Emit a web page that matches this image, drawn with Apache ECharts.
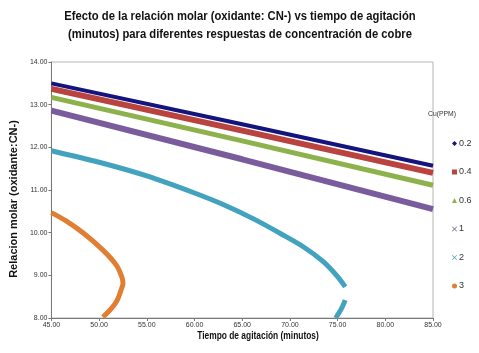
<!DOCTYPE html>
<html>
<head>
<meta charset="utf-8">
<script src="https://cdn.jsdelivr.net/npm/echarts@6/dist/echarts.min.js"></script>
<style>
  html, body { margin: 0; padding: 0; background: #fff; }
  #chart { width: 479px; height: 353px; }
</style>
</head>
<body>
<div id="chart"></div>
<script>
var sans = '"Liberation Sans", Arial, sans-serif';

// Cu (PPM) levels
var seriesNames = ['0.2', '0.4', '0.6', '1', '2', '3'];
var seriesColors = ['#14147e', '#b8433f', '#8db24c', '#7a5c9c', '#43a3bf', '#e07e33'];

// [tiempo (min), relacion molar]
var cu02 = [[45, 13.50], [65, 12.54], [85, 11.57]];
var cu04 = [[45, 13.37], [65, 12.39], [85, 11.40]];
var cu06 = [[45, 13.17], [65, 12.15], [85, 11.11]];
var cu1 = [[45, 12.86], [65, 11.72], [85, 10.55]];
var cu2 = [
    [45, 11.92], [50, 11.65], [55, 11.33], [60, 10.93], [63, 10.66],
    [66.4, 10.30], [69, 9.98], [71.4, 9.67], [73.5, 9.32], [75.0, 8.97],
    [75.8, 8.73], null, [75.8, 8.42], [75.4, 8.22], [74.8, 8.00]
];
var cu3 = [
    [45, 10.47], [46.5, 10.28], [48.4, 9.98], [50.4, 9.59], [51.8, 9.24],
    [52.4, 8.95], [52.5, 8.80], [52.4, 8.72], [51.9, 8.42], [51.2, 8.20],
    [50.4, 8.02]
];
var allData = [cu02, cu04, cu06, cu1, cu2, cu3];
var lineWidths = [4, 6, 5, 6, 5, 5];
var smoothing = [false, false, false, false, 0.3, 0.3];

var crossIcon = 'path://M0,1L1,0L5,4L9,0L10,1L6,5L10,9L9,10L5,6L1,10L0,9L4,5Z';
var legendIcons = ['diamond', 'rect', 'triangle', crossIcon, crossIcon, 'circle'];

var chart = echarts.init(document.getElementById('chart'));

var series = seriesNames.map(function (name, i) {
    return {
        name: name,
        type: 'line',
        data: allData[i],
        showSymbol: false,
        smooth: smoothing[i],
        connectNulls: false,
        lineStyle: { width: lineWidths[i], color: seriesColors[i] },
        itemStyle: { color: seriesColors[i] },
        animation: false
    };
});

chart.setOption({
    backgroundColor: '#fff',
    graphic: [{
        type: 'text',
        x: 240, y: 17,
        scaleX: 0.9,
        style: {
            text: 'Efecto de la relación molar (oxidante: CN-) vs tiempo de agitación',
            textAlign: 'center', textVerticalAlign: 'middle',
            font: 'bold 12.5px ' + sans, fill: '#111'
        }
    }, {
        type: 'text',
        x: 240, y: 35,
        scaleX: 0.9,
        style: {
            text: '(minutos) para diferentes respuestas de concentración de cobre',
            textAlign: 'center', textVerticalAlign: 'middle',
            font: 'bold 12.5px ' + sans, fill: '#111'
        }
    }, {
        type: 'text',
        x: 258, y: 336,
        scaleX: 0.8,
        style: {
            text: 'Tiempo de agitación (minutos)',
            textAlign: 'center', textVerticalAlign: 'middle',
            font: 'bold 10.5px ' + sans, fill: '#111'
        }
    }, {
        type: 'text',
        x: 442, y: 114,
        scaleX: 0.85,
        style: {
            text: 'Cu(PPM)',
            textAlign: 'center', textVerticalAlign: 'middle',
            font: '8px ' + sans, fill: '#333'
        }
    }],
    legend: {
        orient: 'vertical',
        left: 447,
        top: 134,
        itemWidth: 5,
        itemHeight: 5,
        itemGap: 19.5,
        textStyle: { fontFamily: sans, fontSize: 9, color: '#333', padding: [0, 0, 0, -3] },
        data: seriesNames.map(function (n, i) {
            return { name: n, icon: legendIcons[i] };
        })
    },
    grid: {
        left: 40, right: 46, top: 62, bottom: 35,
        show: true, borderColor: '#b5b5b5', borderWidth: 1
    },
    xAxis: {
        type: 'value',
        min: 45, max: 85, interval: 5,
        axisLine: { lineStyle: { color: '#777', width: 1 } },
        axisTick: { show: true, length: 3, lineStyle: { color: '#777' } },
        axisLabel: {
            fontFamily: sans, fontSize: 7, color: '#333', margin: 4,
            formatter: function (v) { return v.toFixed(2); }
        },
        splitLine: { show: false }
    },
    yAxis: {
        type: 'value',
        min: 8, max: 14, interval: 1,
        name: 'Relacion molar (oxidante:CN-)',
        nameLocation: 'middle',
        nameGap: 24,
        nameTextStyle: { fontFamily: sans, fontSize: 11, fontWeight: 'bold', color: '#111', padding: [0, 0, 0, -18] },
        axisLine: { show: true, lineStyle: { color: '#777', width: 1 } },
        axisTick: { show: true, length: 3, lineStyle: { color: '#777' } },
        axisLabel: {
            fontFamily: sans, fontSize: 7, color: '#333', margin: 4,
            formatter: function (v) { return v.toFixed(2); }
        },
        splitLine: { show: false }
    },
    series: series
});
</script>
</body>
</html>
